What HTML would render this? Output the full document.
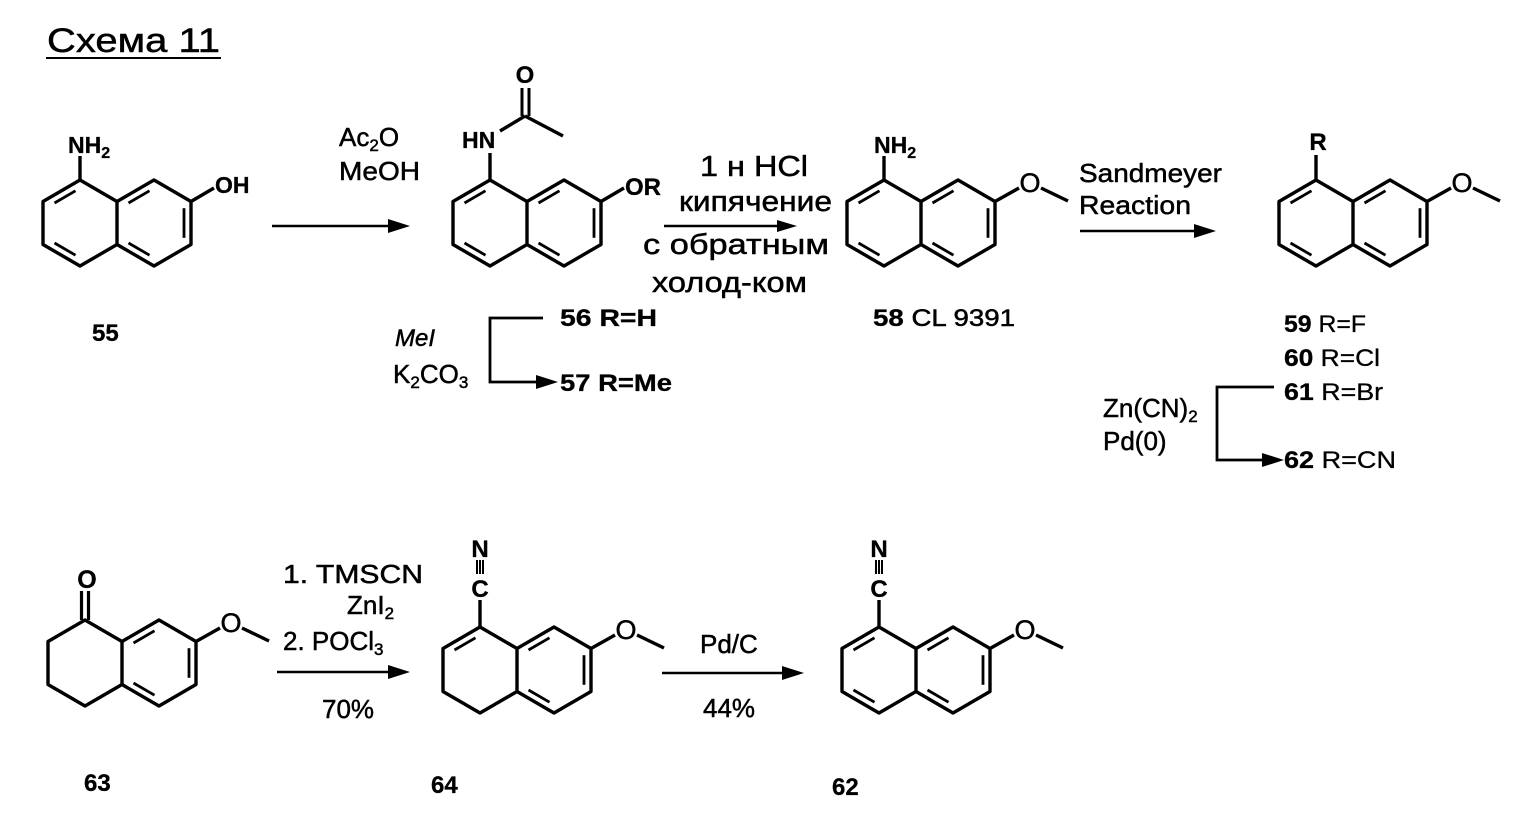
<!DOCTYPE html>
<html><head><meta charset="utf-8"><style>
html,body{margin:0;padding:0;background:#fff}
svg{display:block}
text{font-family:"Liberation Sans",Arial,sans-serif;fill:#000;stroke:#000;stroke-width:0.5}
.b{font-weight:bold;stroke-width:0.3}
</style></head><body>
<svg width="1530" height="815" viewBox="0 0 1530 815" xmlns="http://www.w3.org/2000/svg">
<defs>
<g id="skel" fill="none" stroke="#000" stroke-width="3.4" stroke-linejoin="round">
<path d="M0,-43 L-37,-21.5 L-37,21.5 L0,43 L37,21.5 L37,-21.5 Z"/>
<path d="M37,-21.5 L74,-43 L111,-21.5 L111,21.5 L74,43 L37,21.5"/>
</g>
<g id="inR" stroke="#000" stroke-width="2.8">
<line x1="48.5" y1="-20" x2="69.5" y2="-32.2"/>
<line x1="104" y1="-14.8" x2="104" y2="14.8"/>
<line x1="48.5" y1="20" x2="69.5" y2="32.2"/>
</g>
<g id="inL" stroke="#000" stroke-width="2.8">
<line x1="-4.5" y1="-32.2" x2="-25.5" y2="-20"/>
<line x1="-25.5" y1="20" x2="-4.5" y2="32.2"/>
</g>
<g id="ome">
<line x1="111" y1="-21.5" x2="135" y2="-35" stroke="#000" stroke-width="3.4"/>
<text x="146" y="-31" font-size="27" text-anchor="middle">O</text>
<line x1="157" y1="-35" x2="184" y2="-22" stroke="#000" stroke-width="3.4"/>
</g>
</defs>

<!-- Title -->
<text x="47" y="52" font-size="34" textLength="173" lengthAdjust="spacingAndGlyphs">Схема 11</text>
<line x1="46" y1="58" x2="221" y2="58" stroke="#000" stroke-width="2"/>

<!-- 55 -->
<g transform="translate(80,223)">
<use href="#skel"/><use href="#inL"/><use href="#inR"/>
<line x1="0" y1="-43" x2="0" y2="-67" stroke="#000" stroke-width="3.4"/>
<text x="-12" y="-70" font-size="23" class="b">NH<tspan font-size="16" dy="5">2</tspan></text>
<line x1="111" y1="-21.5" x2="134" y2="-35" stroke="#000" stroke-width="3.4"/>
<text x="135" y="-30" font-size="23" class="b">OH</text>
</g>
<text x="92" y="341" font-size="24" class="b">55</text>

<!-- arrow 55->56 -->
<line x1="272" y1="226" x2="395" y2="226" stroke="#000" stroke-width="2.5"/>
<polygon points="410,226 388,219 388,233"/>
<text x="339" y="146" font-size="26">Ac<tspan font-size="17" dy="5">2</tspan><tspan dy="-5">O</tspan></text>
<text x="339" y="180" font-size="26" textLength="81" lengthAdjust="spacingAndGlyphs">MeOH</text>

<!-- 56 -->
<g transform="translate(490,223)">
<use href="#skel"/><use href="#inL"/><use href="#inR"/>
<line x1="0" y1="-43" x2="0" y2="-70" stroke="#000" stroke-width="3.4"/>
<text x="-28" y="-75" font-size="23" class="b">HN</text>
<line x1="10" y1="-92" x2="35" y2="-107" stroke="#000" stroke-width="3.4"/>
<line x1="35" y1="-107" x2="73" y2="-87" stroke="#000" stroke-width="3.4"/>
<line x1="32" y1="-107" x2="32" y2="-135" stroke="#000" stroke-width="3"/>
<line x1="39" y1="-107" x2="39" y2="-135" stroke="#000" stroke-width="3"/>
<text x="35" y="-140" font-size="24" class="b" text-anchor="middle">O</text>
<line x1="111" y1="-21.5" x2="134" y2="-35" stroke="#000" stroke-width="3.4"/>
<text x="135" y="-28" font-size="24" class="b">OR</text>
</g>

<!-- bracket 56->57 -->
<polyline points="543,318 490,318 490,382 545,382" fill="none" stroke="#000" stroke-width="2.8"/>
<polygon points="558,382 536,375 536,389"/>
<text x="560" y="326" font-size="24" class="b" textLength="97" lengthAdjust="spacingAndGlyphs">56 R=H</text>
<text x="560" y="391" font-size="24" class="b" textLength="112" lengthAdjust="spacingAndGlyphs">57 R=Me</text>
<text x="395" y="346" font-size="24" font-style="italic">MeI</text>
<text x="393" y="383" font-size="26">K<tspan font-size="17" dy="5">2</tspan><tspan dy="-5">CO</tspan><tspan font-size="17" dy="5">3</tspan></text>

<!-- arrow 56->58 -->
<line x1="664" y1="226" x2="782" y2="226" stroke="#000" stroke-width="2.5"/>
<polygon points="797,226 777,220 777,232"/>
<text x="700" y="176" font-size="29" textLength="108" lengthAdjust="spacingAndGlyphs">1 н HCl</text>
<text x="679" y="211" font-size="29" textLength="153" lengthAdjust="spacingAndGlyphs">кипячение</text>
<text x="643" y="254" font-size="29" textLength="186" lengthAdjust="spacingAndGlyphs">с обратным</text>
<text x="652" y="292" font-size="29" textLength="155" lengthAdjust="spacingAndGlyphs">холод-ком</text>

<!-- 58 -->
<g transform="translate(884,223)">
<use href="#skel"/><use href="#inL"/><use href="#inR"/><use href="#ome"/>
<line x1="0" y1="-43" x2="0" y2="-67" stroke="#000" stroke-width="3.4"/>
<text x="-10" y="-70" font-size="23" class="b">NH<tspan font-size="16" dy="5">2</tspan></text>
</g>
<text x="873" y="326" font-size="24" textLength="142" lengthAdjust="spacingAndGlyphs"><tspan class="b">58</tspan> CL 9391</text>

<!-- Sandmeyer arrow -->
<line x1="1080" y1="231" x2="1200" y2="231" stroke="#000" stroke-width="2.5"/>
<polygon points="1216,231 1194,224 1194,238"/>
<text x="1079" y="182" font-size="26" textLength="143" lengthAdjust="spacingAndGlyphs">Sandmeyer</text>
<text x="1079" y="214" font-size="26" textLength="112" lengthAdjust="spacingAndGlyphs">Reaction</text>

<!-- 59 -->
<g transform="translate(1316,223)">
<use href="#skel"/><use href="#inL"/><use href="#inR"/><use href="#ome"/>
<line x1="0" y1="-43" x2="0" y2="-68" stroke="#000" stroke-width="3.4"/>
<text x="2" y="-73" font-size="24" class="b" text-anchor="middle">R</text>
</g>
<text x="1284" y="332" font-size="24" class="b" textLength="82" lengthAdjust="spacingAndGlyphs">59 <tspan font-weight="normal">R=F</tspan></text>
<text x="1284" y="366" font-size="24" class="b" textLength="96" lengthAdjust="spacingAndGlyphs">60 <tspan font-weight="normal">R=Cl</tspan></text>
<text x="1284" y="400" font-size="24" class="b" textLength="99" lengthAdjust="spacingAndGlyphs">61 <tspan font-weight="normal">R=Br</tspan></text>
<text x="1284" y="468" font-size="24" class="b" textLength="112" lengthAdjust="spacingAndGlyphs">62 <tspan font-weight="normal">R=CN</tspan></text>
<polyline points="1274,387 1217,387 1217,460 1270,460" fill="none" stroke="#000" stroke-width="2.8"/>
<polygon points="1284,460 1262,453 1262,467"/>
<text x="1103" y="417" font-size="26">Zn(CN)<tspan font-size="17" dy="5">2</tspan></text>
<text x="1103" y="450" font-size="26">Pd(0)</text>

<!-- 63 -->
<g transform="translate(85,663)">
<use href="#skel"/><use href="#inR"/><use href="#ome"/>
<line x1="-3.5" y1="-43" x2="-3.5" y2="-72" stroke="#000" stroke-width="3.2"/>
<line x1="3.5" y1="-43" x2="3.5" y2="-72" stroke="#000" stroke-width="3.2"/>
<text x="2" y="-75" font-size="25" class="b" text-anchor="middle">O</text>
</g>
<text x="84" y="791" font-size="24" class="b">63</text>

<!-- arrow 63->64 -->
<line x1="277" y1="672" x2="395" y2="672" stroke="#000" stroke-width="2.5"/>
<polygon points="410,672 388,665 388,679"/>
<text x="283" y="583" font-size="26" textLength="140" lengthAdjust="spacingAndGlyphs">1.  TMSCN</text>
<text x="347" y="614" font-size="26">ZnI<tspan font-size="17" dy="5">2</tspan></text>
<text x="283" y="650" font-size="26">2.  POCl<tspan font-size="17" dy="5">3</tspan></text>
<text x="322" y="718" font-size="26">70%</text>

<!-- 64 -->
<g transform="translate(480,670)">
<use href="#skel"/><use href="#inR"/><use href="#ome"/>
<line x1="-4.5" y1="-32.2" x2="-25.5" y2="-20" stroke="#000" stroke-width="2.8"/>
<line x1="0" y1="-43" x2="0" y2="-70" stroke="#000" stroke-width="3.4"/>
<text x="0" y="-73" font-size="24" class="b" text-anchor="middle">C</text>
<line x1="-3" y1="-96" x2="-3" y2="-110" stroke="#000" stroke-width="2"/>
<line x1="0" y1="-96" x2="0" y2="-110" stroke="#000" stroke-width="2"/>
<line x1="3" y1="-96" x2="3" y2="-110" stroke="#000" stroke-width="2"/>
<text x="0" y="-113" font-size="24" class="b" text-anchor="middle">N</text>
</g>
<text x="431" y="793" font-size="24" class="b">64</text>

<!-- arrow 64->62 -->
<line x1="662" y1="673" x2="790" y2="673" stroke="#000" stroke-width="2.5"/>
<polygon points="804,673 782,666 782,680"/>
<text x="700" y="653" font-size="26">Pd/C</text>
<text x="703" y="717" font-size="26">44%</text>

<!-- 62 -->
<g transform="translate(879,670)">
<use href="#skel"/><use href="#inL"/><use href="#inR"/><use href="#ome"/>
<line x1="0" y1="-43" x2="0" y2="-70" stroke="#000" stroke-width="3.4"/>
<text x="0" y="-73" font-size="24" class="b" text-anchor="middle">C</text>
<line x1="-3" y1="-96" x2="-3" y2="-110" stroke="#000" stroke-width="2"/>
<line x1="0" y1="-96" x2="0" y2="-110" stroke="#000" stroke-width="2"/>
<line x1="3" y1="-96" x2="3" y2="-110" stroke="#000" stroke-width="2"/>
<text x="0" y="-113" font-size="24" class="b" text-anchor="middle">N</text>
</g>
<text x="832" y="795" font-size="24" class="b">62</text>
</svg>
</body></html>
